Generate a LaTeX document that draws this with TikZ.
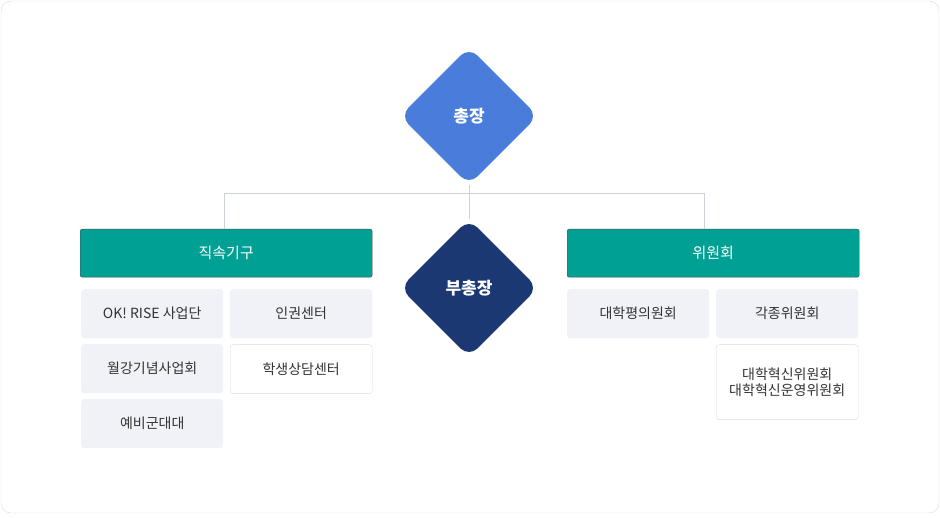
\documentclass[tikz,border=0pt]{standalone}
\usepackage{fontspec}
\setmainfont{Noto Sans CJK KR}
\usetikzlibrary{shapes.geometric}
\definecolor{outl}{HTML}{D9DCE3}
\definecolor{linec}{HTML}{CDD1DA}
\definecolor{bluep}{HTML}{4A7DDB}
\definecolor{navyp}{HTML}{1B3872}
\definecolor{tealp}{HTML}{00A194}
\definecolor{graybox}{HTML}{F0F2F7}
\definecolor{txt}{HTML}{333333}
\tikzset{
  dia/.style={diamond,minimum width=138pt,minimum height=138pt,inner sep=0pt,rounded corners=12pt,text=white,font=\fontsize{17}{17}\selectfont\bfseries},
  head/.style={draw=black!70,fill=tealp,text=white,minimum width=292pt,minimum height=48pt,rounded corners=2pt,font=\fontsize{15}{15}\selectfont,inner sep=0pt},
  gbox/.style={fill=graybox,text=txt,minimum width=142pt,minimum height=49pt,rounded corners=3pt,font=\fontsize{14}{14}\selectfont,inner sep=0pt},
  wbox/.style={gbox,fill=white,draw=outl},
  conn/.style={draw=linec,line width=0.8pt}
}
\begin{document}
\begin{tikzpicture}[x=1pt,y=-1pt]
\useasboundingbox (0,0) rectangle (940,518);
\draw[outl,rounded corners=10pt,fill=white] (1,1) rectangle (939,513);
\coordinate (jl) at (224,193);
\coordinate (jm) at (469,193);
\coordinate (jr) at (704,193);
\node[head,anchor=north west] (h1) at (80,229) {직속기구};
\node[head,anchor=north west] (h2) at (567,229) {위원회};
\node[dia,fill=bluep] (p) at (469,116) {총장};
\node[dia,fill=navyp] (vp) at (469,288) {부총장};
\draw[conn] (p.south) -- (jm) (jl) -- (jr) (jm) -- (vp.north);
\draw[conn] (jl) -- (jl|-h1.north);
\draw[conn] (jr) -- (jr|-h2.north);
\node[gbox,anchor=north west] (a1) at (81,289) {OK! RISE 사업단};
\node[gbox,anchor=north west] (a2) at (230,289) {인권센터};
\node[gbox,anchor=north west] (a3) at (81,344) {월강기념사업회};
\node[wbox,anchor=north west] (a4) at (230,344.5) {학생상담센터};
\node[gbox,anchor=north west] (a5) at (81,399) {예비군대대};
\node[gbox,anchor=north west] (b1) at (567,289) {대학평의원회};
\node[gbox,anchor=north west] (b2) at (716,289) {각종위원회};
\node[wbox,anchor=north west,minimum height=75pt,align=center] (b3) at (716,344.5) {대학혁신위원회\\[2pt]대학혁신운영위원회};
\end{tikzpicture}
\end{document}
